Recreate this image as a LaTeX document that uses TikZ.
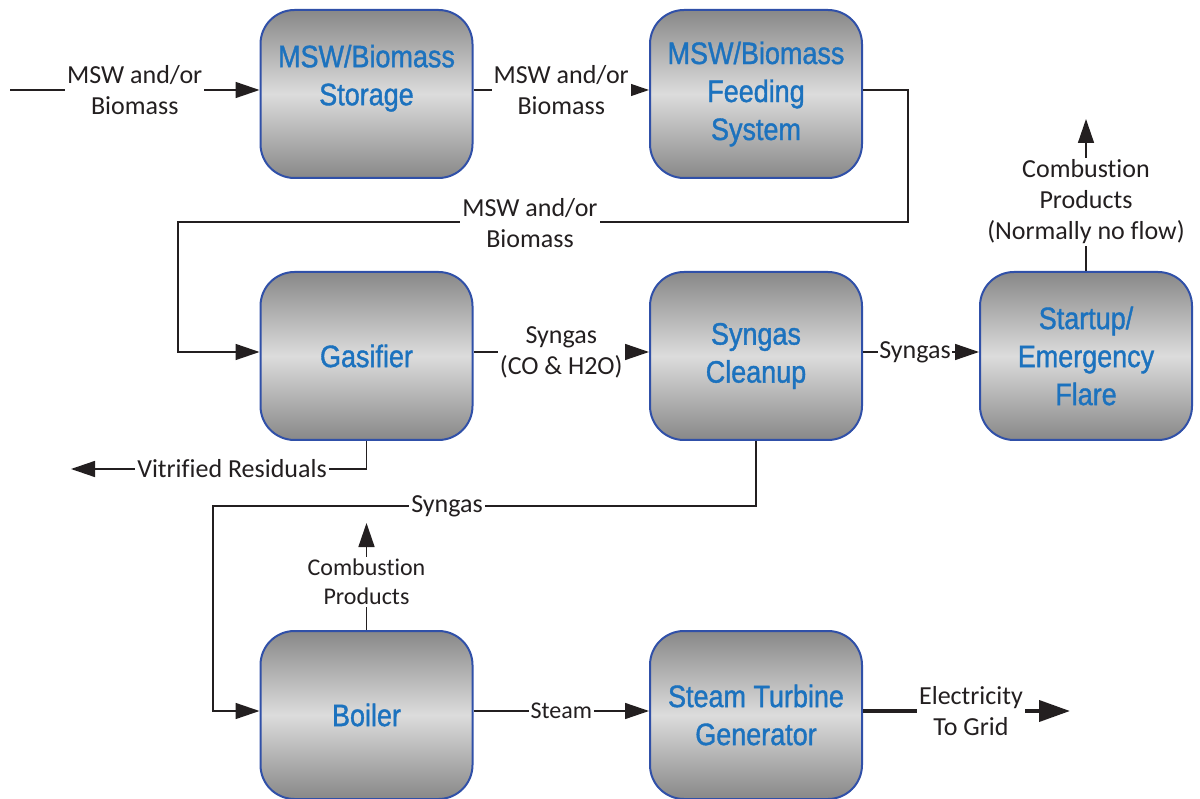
\documentclass[tikz,border=0pt]{standalone}
\usepackage{fontspec}
\setmainfont[Ligatures=NoCommon]{Carlito}
\newfontfamily\boxfont[FakeStretch=0.87,FakeBold=1.2]{Liberation Sans}
\usetikzlibrary{arrows.meta,calc}

\definecolor{boxdark}{HTML}{888888}
\definecolor{boxlight}{HTML}{DCDCDC}
\definecolor{boxedge}{HTML}{3050A8}
\definecolor{boxtext}{HTML}{1C72BE}
\definecolor{ink}{HTML}{231F20}

\begin{document}
\begin{tikzpicture}[x=1pt,y=-1pt,
  unitbox/.style={rectangle, rounded corners=34pt, draw=boxedge, line width=2pt,
    top color=boxdark, bottom color=boxdark, middle color=boxlight,
    minimum width=212pt, minimum height=168pt, align=center, inner sep=0pt,
    font=\boxfont\fontsize{31}{38}\selectfont, text=boxtext},
  flow/.style={line width=1.5pt, draw=ink, -{Triangle[length=24pt,width=16pt]}},
  lab/.style={font=\fontsize{26}{31}\selectfont, text=ink, fill=white, align=center, inner sep=2pt},
  smalllab/.style={lab, font=\fontsize{24}{29}\selectfont}
]
\useasboundingbox (0,0) rectangle (1200,799);

% process units
\node[unitbox] (st) at (366.5,94)  {MSW/Biomass\\Storage\\\mbox{}};
\node[unitbox] (fd) at (756,94)    {MSW/Biomass\\Feeding\\System};
\node[unitbox] (gs) at (366.5,356) {Gasifier};
\node[unitbox] (cl) at (756,356)   {Syngas\\Cleanup};
\node[unitbox] (fl) at (1086,356)  {Startup/\\Emergency\\Flare};
\node[unitbox] (bl) at (366.5,715) {Boiler};
\node[unitbox] (tg) at (756,715)   {Steam Turbine\\Generator};

% free ends and bends
\coordinate (src)    at (10,90);
\coordinate (fdturn) at (908,222);
\coordinate (gsturn) at (178,352);
\coordinate (flout)  at (1086,119);
\coordinate (resout) at (71,469);
\coordinate (clturn) at (213,506);
\coordinate (blout)  at (366.5,523);
\coordinate (grid)   at (1070,711);

% feed line
\draw[flow] (src) -- (st.west |- src)
  node[lab,midway] (l1) {MSW and/or\\Biomass};
\draw[flow] ($(st.east)+(0,-4)$) -- ($(fd.west)+(0,-4)$)
  node[lab,midway] (l2) {MSW and/or\\Biomass};
\draw[flow] ($(fd.east)+(0,-4)$) -| (fdturn) -| (gsturn) -- ($(gs.west)+(0,-4)$);
\node[lab] (l3) at (530,223) {MSW and/or\\Biomass};

% syngas path
\draw[flow] ($(gs.east)+(0,-4)$) -- ($(cl.west)+(0,-4)$)
  node[lab,midway] (l4) {Syngas\\(CO \& H2O)};
\draw[flow] ($(cl.east)+(0,-4)$) -- ($(fl.west)+(0,-4)$);
\node[lab,inner sep=1pt] (l5) at (915,352) {Syngas};
\draw[flow] (fl.north) -- (flout);
\node[lab] (l6) at (1086,202) {Combustion\\Products\\(Normally no flow)};

% residuals
\draw[flow] (gs.south) |- (resout);
\node[lab] (l7) at (232,469) {Vitrified Residuals};

% syngas to boiler
\draw[flow] (cl.south) |- (clturn) |- ($(bl.west)+(0,-4)$);
\node[lab] (l8) at (447,506) {Syngas};
\draw[flow] (bl.north) -- (blout);
\node[smalllab] (l9) at (366.5,582) {Combustion\\Products};

% power block
\draw[flow] ($(bl.east)+(0,-4)$) -- ($(tg.west)+(0,-4)$)
  node[smalllab,midway] (l10) {Steam};
\draw[line width=4pt, draw=ink, -{Triangle[length=31pt,width=21pt]}]
  ($(tg.east)+(0,-4)$) -- (grid);
\node[lab] (l11) at (971,711) {Electricity\\To Grid};
\end{tikzpicture}
\end{document}
